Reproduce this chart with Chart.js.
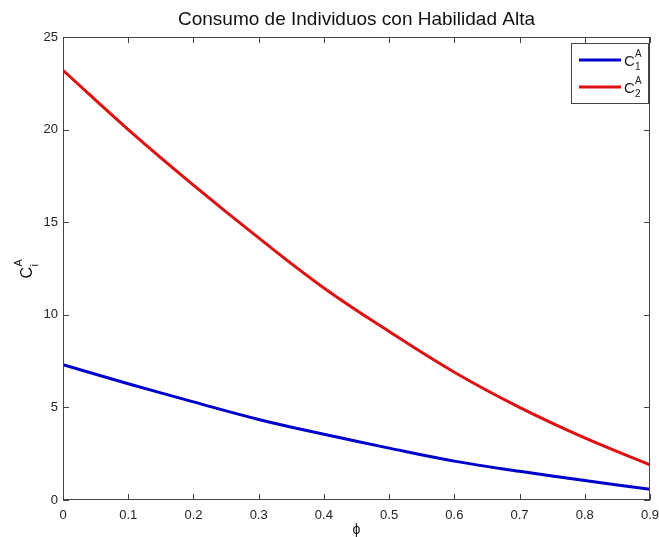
<!DOCTYPE html>
<html>
<head>
<meta charset="utf-8">
<script src="https://cdn.jsdelivr.net/npm/chart.js@4.4.0/dist/chart.umd.min.js"></script>
<style>
  html, body { margin: 0; padding: 0; background: #fff; }
  #wrap { width: 659px; height: 537px; position: relative; }
</style>
</head>
<body>
<div id="wrap"><canvas id="chart"></canvas></div>
<script>
// phi values and consumption of high-skill individuals
const phi = [0, 0.1, 0.2, 0.3, 0.4, 0.5, 0.6, 0.7, 0.8, 0.9];
const c1 = [7.3, 6.28, 5.3, 4.35, 3.55, 2.8, 2.1, 1.55, 1.05, 0.58];
const c2 = [23.2, 20.0, 17.0, 14.15, 11.45, 9.1, 6.9, 5.0, 3.35, 1.9];
const xTicks = [0, 0.1, 0.2, 0.3, 0.4, 0.5, 0.6, 0.7, 0.8, 0.9];
const yTicks = [0, 5, 10, 15, 20, 25];

const FONT = "'Liberation Sans', Arial, sans-serif";

const toPoints = (xs, ys) => xs.map((x, i) => ({ x: x, y: ys[i] }));

// Draws frame, inward ticks, title, axis labels and legend (matlab look)
const matlabDecor = {
    id: 'matlabDecor',
    afterDraw(chart) {
        const { ctx, chartArea: a, scales } = chart;
        const xs = scales.x, ys = scales.y;
        ctx.save();
        ctx.strokeStyle = '#444';
        ctx.lineWidth = 1;
        ctx.strokeRect(a.left + 0.5, a.top + 0.5, a.right - a.left - 1, a.bottom - a.top - 1);

        ctx.beginPath();
        xTicks.forEach(v => {
            const px = Math.round(xs.getPixelForValue(v)) + 0.5;
            ctx.moveTo(px, a.bottom); ctx.lineTo(px, a.bottom - 6);
            ctx.moveTo(px, a.top); ctx.lineTo(px, a.top + 6);
        });
        yTicks.forEach(v => {
            const py = Math.round(ys.getPixelForValue(v)) + 0.5;
            ctx.moveTo(a.left, py); ctx.lineTo(a.left + 6, py);
            ctx.moveTo(a.right, py); ctx.lineTo(a.right - 6, py);
        });
        ctx.stroke();

        // title
        ctx.fillStyle = '#111';
        ctx.font = '19px ' + FONT;
        ctx.textAlign = 'center';
        ctx.textBaseline = 'alphabetic';
        ctx.fillText('Consumo de Individuos con Habilidad Alta', (a.left + a.right) / 2, 25);

        // x label
        ctx.font = '14px ' + FONT;
        ctx.fillText('\u03d5', (a.left + a.right) / 2, 534);

        // y label C_i^A rotated
        ctx.save();
        ctx.translate(32, (a.top + a.bottom) / 2);
        ctx.rotate(-Math.PI / 2);
        ctx.textAlign = 'left';
        ctx.font = '16px ' + FONT;
        ctx.fillText('C', -10, 0);
        ctx.font = '11px ' + FONT;
        ctx.fillText('A', 2, -10);
        ctx.fillText('i', 2, 6);
        ctx.restore();

        // legend
        const lx = 571, ly = 43, lw = 77, lh = 60;
        ctx.fillStyle = '#fff';
        ctx.fillRect(lx, ly, lw, lh);
        ctx.strokeStyle = '#444';
        ctx.lineWidth = 1;
        ctx.strokeRect(lx + 0.5, ly + 0.5, lw, lh);
        chart.data.datasets.forEach((ds, i) => {
            const yy = 60 + i * 27;
            ctx.strokeStyle = ds.borderColor;
            ctx.lineWidth = 3;
            ctx.beginPath();
            ctx.moveTo(579, yy); ctx.lineTo(621, yy);
            ctx.stroke();
            ctx.fillStyle = '#222';
            ctx.textAlign = 'left';
            ctx.font = '15px ' + FONT;
            ctx.fillText('C', 624, yy + 6);
            ctx.font = '10px ' + FONT;
            ctx.fillText('A', 635, yy - 3);
            ctx.fillText(String(i + 1), 635, yy + 10);
        });
        ctx.restore();
    }
};

new Chart(document.getElementById('chart'), {
    type: 'line',
    data: {
        datasets: [{
            label: 'C1A',
            data: toPoints(phi, c1),
            borderColor: '#0000cc',
            borderWidth: 3,
            pointRadius: 0,
            tension: 0.4
        }, {
            label: 'C2A',
            data: toPoints(phi, c2),
            borderColor: '#dd1111',
            borderWidth: 3,
            pointRadius: 0,
            tension: 0.4
        }]
    },
    options: {
        responsive: true,
        maintainAspectRatio: false,
        animation: false,
        layout: { padding: { top: 37, right: 9, left: 0, bottom: 0 } },
        scales: {
            x: {
                type: 'linear',
                min: 0, max: 0.9,
                afterBuildTicks: s => { s.ticks = xTicks.map(v => ({ value: v })); },
                afterFit: s => { s.height = 37; s.paddingRight = 0; s.paddingLeft = 0; },
                grid: { display: false, drawTicks: false },
                border: { display: false },
                ticks: {
                    padding: 8,
                    color: '#222',
                    font: { family: FONT, size: 13 },
                    callback: v => String(v)
                }
            },
            y: {
                min: 0, max: 25,
                afterBuildTicks: s => { s.ticks = yTicks.map(v => ({ value: v })); },
                afterFit: s => { s.width = 63; s.paddingTop = 0; s.paddingBottom = 0; },
                grid: { display: false, drawTicks: false },
                border: { display: false },
                ticks: {
                    padding: 5,
                    color: '#222',
                    font: { family: FONT, size: 13 }
                }
            }
        },
        plugins: {
            legend: { display: false },
            tooltip: { enabled: false }
        }
    },
    plugins: [matlabDecor]
});
</script>
</body>
</html>
